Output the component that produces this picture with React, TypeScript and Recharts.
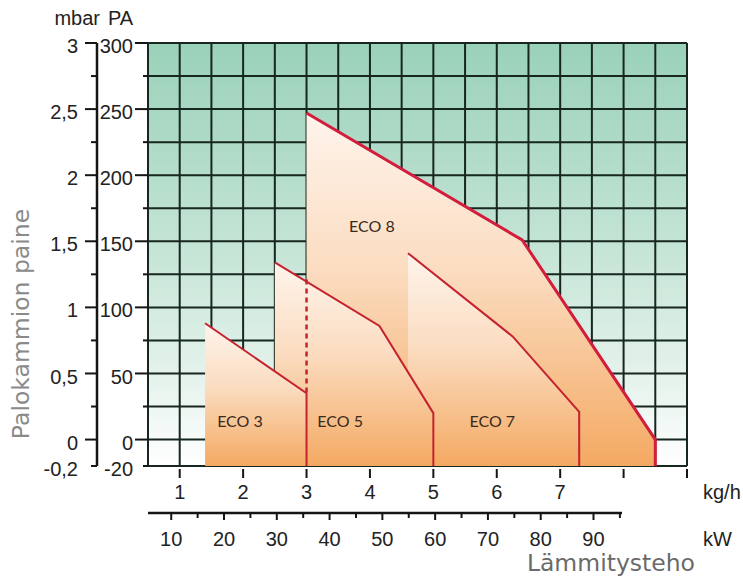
import { Area, CartesianGrid, ComposedChart, Line, ReferenceDot, XAxis, YAxis } from "recharts";

// burner working fields, x = fuel flow (kg/h), y = combustion chamber pressure (Pa)
const eco3 = [
  { kgh: 1.4, pa: 88 },
  { kgh: 3.0, pa: 35 },
  { kgh: 3.0, pa: -20 },
];
const eco5 = [
  { kgh: 2.5, pa: 134 },
  { kgh: 4.15, pa: 86 },
  { kgh: 5.0, pa: 20 },
  { kgh: 5.0, pa: -20 },
];
const eco7 = [
  { kgh: 4.6, pa: 141 },
  { kgh: 6.25, pa: 78 },
  { kgh: 7.3, pa: 21 },
  { kgh: 7.3, pa: -20 },
];
const eco8 = [
  { kgh: 3.0, pa: 247 },
  { kgh: 6.4, pa: 151 },
  { kgh: 8.5, pa: 0 },
  { kgh: 8.5, pa: -20 },
];
const eco8Edge = [
  { kgh: 3.0, pa: 121 },
  { kgh: 3.0, pa: 35 },
];
const ecoLabels = [
  { name: "ECO 3", kgh: 1.95, pa: 14 },
  { name: "ECO 5", kgh: 3.53, pa: 14 },
  { name: "ECO 7", kgh: 5.93, pa: 14 },
  { name: "ECO 8", kgh: 4.03, pa: 161 },
];

const kghTicks = [0.5, 1, 1.5, 2, 2.5, 3, 3.5, 4, 4.5, 5, 5.5, 6, 6.5, 7, 7.5, 8, 8.5, 9];
const kghLabels = [1, 2, 3, 4, 5, 6, 7];
const paTicks = [-20, 0, 25, 50, 75, 100, 125, 150, 175, 200, 225, 250, 275, 300];
const paLabels = [-20, 0, 50, 100, 150, 200, 250, 300];
const kwTicks = [10, 15, 20, 25, 30, 35, 40, 45, 50, 55, 60, 65, 70, 75, 80, 85, 90, 95];
const kwLabels = [10, 20, 30, 40, 50, 60, 70, 80, 90];

const kwRows = kwTicks.map((kw) => ({ kw }));

const tickFont = {
  fontFamily: "'Liberation Sans', Arial, sans-serif",
  fontSize: 20,
  fill: "#222",
};
const titleFont = {
  fontFamily: "'DejaVu Sans', Verdana, sans-serif",
  fontSize: 23.5,
};
const ink = "#151515";

const mbar = (v: number) => String(v / 100).replace(".", ",");

function PaTick({ x, y, payload }: any) {
  const v = payload.value;
  const major = paLabels.includes(v) && v !== -20;
  return (
    <g>
      <line x1={x - (major ? 13 : 5)} x2={x} y1={y} y2={y} stroke={ink} strokeWidth={2} />
      {paLabels.includes(v) && (
        <text x={x - 15} y={y + 3} dy="0.355em" textAnchor="end" {...tickFont}>
          {v}
        </text>
      )}
    </g>
  );
}

function MbarTick({ x, y, payload }: any) {
  const v = payload.value;
  const major = paLabels.includes(v) && v !== -20;
  return (
    <g>
      <line x1={x - (major ? 12 : 6)} x2={x} y1={y} y2={y} stroke={ink} strokeWidth={2} />
      {paLabels.includes(v) && (
        <text x={x - 19} y={y + 3} dy="0.355em" textAnchor="end" {...tickFont}>
          {mbar(v)}
        </text>
      )}
    </g>
  );
}

function KghTick({ x, y, payload }: any) {
  const v = payload.value;
  if (!Number.isInteger(v)) return <g />;
  return (
    <g>
      <line x1={x} x2={x} y1={y + 3} y2={y + 12} stroke={ink} strokeWidth={2} />
      {kghLabels.includes(v) && (
        <text x={x} y={y + 26} dy="0.355em" textAnchor="middle" {...tickFont}>
          {v}
        </text>
      )}
    </g>
  );
}

function KwTick({ x, y, payload }: any) {
  const v = payload.value;
  const major = kwLabels.includes(v);
  return (
    <g>
      <line x1={x} x2={x} y1={y} y2={y + (major ? 7 : 5)} stroke={ink} strokeWidth={2} />
      {major && (
        <text x={x} y={y + 26} dy="0.355em" textAnchor="middle" {...tickFont}>
          {v}
        </text>
      )}
    </g>
  );
}

function EcoLabel({ viewBox, value }: any) {
  return (
    <text
      x={viewBox.cx ?? viewBox.x}
      y={viewBox.cy ?? viewBox.y}
      dy="0.355em"
      textAnchor="middle"
      fontFamily="Lato, 'Open Sans', sans-serif"
      fontSize={16}
      fill="#3a2a1c"
    >
      {value}
    </text>
  );
}

export default function App() {
  return (
    <div style={{ position: "absolute", left: 0, top: 0, width: 743, height: 587, background: "#fff" }}>
      <ComposedChart width={743} height={587} margin={{ top: 43, right: 56, bottom: 81, left: 37 }}>
        <defs>
          <linearGradient id="bgFill" x1="0" y1="0" x2="0" y2="1">
            <stop offset="0%" stopColor="#9ad1b9" />
            <stop offset="45%" stopColor="#c1e3d3" />
            <stop offset="80%" stopColor="#e6f3ed" />
            <stop offset="100%" stopColor="#ffffff" />
          </linearGradient>
          <linearGradient id="ecoFill" x1="0" y1="0" x2="0" y2="1">
            <stop offset="0%" stopColor="#fef4ec" />
            <stop offset="45%" stopColor="#fbdcc0" />
            <stop offset="100%" stopColor="#f4a962" />
          </linearGradient>
        </defs>
        <CartesianGrid xAxisId="kgh" yAxisId="a_pa" fill="url(#bgFill)" fillOpacity={1} stroke="#17261e" strokeWidth={2} />
        <XAxis
          xAxisId="kgh"
          dataKey="kgh"
          type="number"
          domain={[0.5, 9]}
          ticks={kghTicks}
          interval={0}
          height={40}
          axisLine={false}
          tickLine={false}
          tickSize={0}
          tickMargin={0}
          tick={(p: any) => <KghTick {...p} />}
          label={(p: any) => (
            <text x={p.viewBox.x + p.viewBox.width + 16} y={p.viewBox.y + 26} dy="0.355em" {...tickFont}>
              kg/h
            </text>
          )}
        />
        <YAxis
          yAxisId="a_pa"
          type="number"
          domain={[-20, 300]}
          allowDataOverflow
          ticks={paTicks}
          interval={0}
          width={51}
          axisLine={false}
          tickLine={false}
          tickSize={0}
          tickMargin={0}
          tick={(p: any) => <PaTick {...p} />}
          label={(p: any) => (
            <text x={p.viewBox.x + 11} y={25} {...tickFont}>
              PA
            </text>
          )}
        />
        <YAxis
          yAxisId="b_mbar"
          type="number"
          domain={[-20, 300]}
          allowDataOverflow
          ticks={paTicks}
          interval={0}
          width={60}
          axisLine={{ stroke: ink, strokeWidth: 2.5 }}
          tickLine={false}
          tickSize={0}
          tickMargin={0}
          tick={(p: any) => <MbarTick {...p} />}
          label={(p: any) => (
            <g>
              <text x={p.viewBox.x + p.viewBox.width + 3} y={25} textAnchor="end" {...tickFont}>
                mbar
              </text>
              <text
                x={29}
                y={324}
                textAnchor="middle"
                transform="rotate(-90, 29, 324)"
                {...titleFont}
                fill="#8a8a8a"
              >
                Palokammion paine
              </text>
            </g>
          )}
        />
        <Area xAxisId="kgh" yAxisId="a_pa" data={eco8} dataKey="pa" type="linear" baseValue={-20}
          stroke="#d21d3c" strokeWidth={3} fill="url(#ecoFill)" fillOpacity={1} dot={false} activeDot={false} isAnimationActive={false} />
        <Area xAxisId="kgh" yAxisId="a_pa" data={eco7} dataKey="pa" type="linear" baseValue={-20}
          stroke="#c4222f" strokeWidth={2} fill="url(#ecoFill)" fillOpacity={1} dot={false} activeDot={false} isAnimationActive={false} />
        <Area xAxisId="kgh" yAxisId="a_pa" data={eco5} dataKey="pa" type="linear" baseValue={-20}
          stroke="#c4222f" strokeWidth={2} fill="url(#ecoFill)" fillOpacity={1} dot={false} activeDot={false} isAnimationActive={false} />
        <Area xAxisId="kgh" yAxisId="a_pa" data={eco3} dataKey="pa" type="linear" baseValue={-20}
          stroke="#c4222f" strokeWidth={2} fill="url(#ecoFill)" fillOpacity={1} dot={false} activeDot={false} isAnimationActive={false} />
        <Line xAxisId="kgh" yAxisId="a_pa" data={eco8Edge} dataKey="pa" type="linear"
          stroke="#c4222f" strokeWidth={2.5} strokeDasharray="5 4" dot={false} activeDot={false} isAnimationActive={false} />
        {ecoLabels.map((l) => (
          <ReferenceDot key={l.name} xAxisId="kgh" yAxisId="a_pa" x={l.kgh} y={l.pa} r={0}
            fill="none" stroke="none" label={(p: any) => <EcoLabel {...p} value={l.name} />} />
        ))}
      </ComposedChart>

      <div style={{ position: "absolute", left: 0, top: 0 }}>
        <ComposedChart width={743} height={587} data={kwRows} margin={{ top: 470, right: 121, bottom: 34, left: 148 }}>
          <XAxis
            dataKey="kw"
            type="number"
            domain={[5.6, 95.4]}
            allowDataOverflow
            ticks={kwTicks}
            interval={0}
            height={40}
            axisLine={{ stroke: ink, strokeWidth: 2.5 }}
            tickLine={false}
            tickSize={0}
            tickMargin={0}
            tick={(p: any) => <KwTick {...p} />}
            label={() => (
              <g>
                <text x={703} y={539} dy="0.355em" {...tickFont}>
                  kW
                </text>
                <text x={695} y={571} textAnchor="end" {...titleFont} fill="#6a6a6a">
                  Lämmitysteho
                </text>
              </g>
            )}
          />
          <YAxis hide />
        </ComposedChart>
      </div>
    </div>
  );
}
